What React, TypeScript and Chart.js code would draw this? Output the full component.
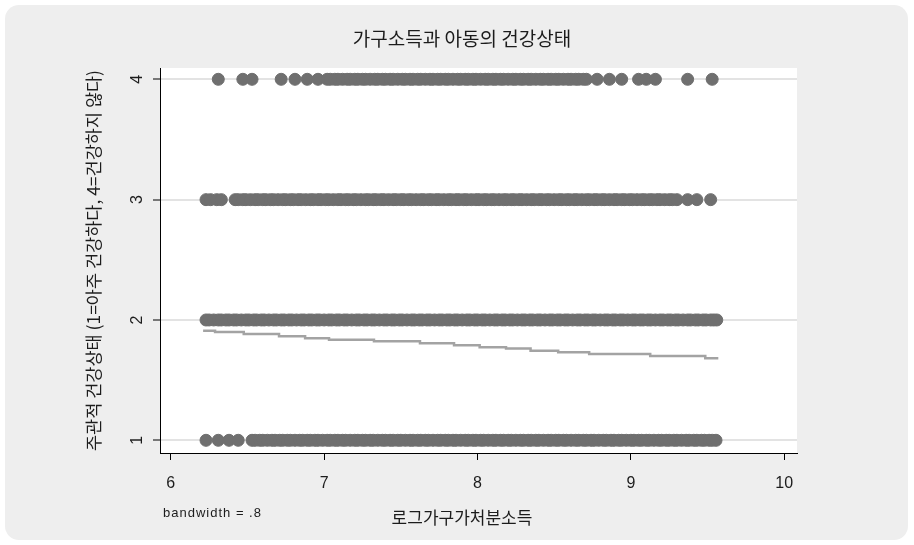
import React, { useEffect, useRef } from "react";
import { Chart, registerables } from "chart.js";

Chart.register(...registerables);

const chartTitle = "가구소득과 아동의 건강상태";
const xAxisTitle = "로그가구가처분소득";
const yAxisTitle = "주관적 건강상태 (1=아주 건강하다, 4=건강하지 않다)";
const noteText = "bandwidth = .8";

const xTicks = [6, 7, 8, 9, 10];
const yTicks = [1, 2, 3, 4];
const healthLevels = [1, 2, 3, 4];

// log household disposable income of observations at each health level
const health1X = [
  6.23, 6.31, 6.38, 6.44, 6.53, 6.55, 6.58, 6.60, 6.63, 6.66, 6.68, 6.71, 6.73, 6.76, 6.78,
  6.81, 6.84, 6.86, 6.89, 6.91, 6.94, 6.96, 6.99, 7.02, 7.04, 7.07, 7.09, 7.12, 7.14, 7.17,
  7.20, 7.22, 7.25, 7.27, 7.30, 7.32, 7.35, 7.38, 7.40, 7.43, 7.45, 7.48, 7.50, 7.53, 7.56,
  7.58, 7.61, 7.63, 7.66, 7.68, 7.71, 7.74, 7.76, 7.79, 7.81, 7.84, 7.86, 7.89, 7.92, 7.94,
  7.97, 7.99, 8.02, 8.04, 8.07, 8.10, 8.12, 8.15, 8.17, 8.20, 8.22, 8.25, 8.28, 8.30, 8.33,
  8.35, 8.38, 8.40, 8.43, 8.46, 8.48, 8.51, 8.53, 8.56, 8.58, 8.61, 8.64, 8.66, 8.69, 8.71,
  8.74, 8.76, 8.79, 8.82, 8.84, 8.87, 8.89, 8.92, 8.94, 8.97, 9.00, 9.02, 9.05, 9.07, 9.10,
  9.12, 9.15, 9.18, 9.20, 9.23, 9.25, 9.28, 9.30, 9.33, 9.36, 9.38, 9.41, 9.43, 9.46, 9.48,
  9.51, 9.53, 9.555,
];
const health2X = [
  6.23, 6.25, 6.28, 6.31, 6.33, 6.36, 6.38, 6.41, 6.43, 6.46, 6.49, 6.51, 6.54, 6.56, 6.59,
  6.61, 6.64, 6.67, 6.69, 6.72, 6.74, 6.77, 6.79, 6.82, 6.85, 6.87, 6.90, 6.92, 6.95, 6.97,
  7.00, 7.03, 7.05, 7.08, 7.10, 7.13, 7.15, 7.18, 7.21, 7.23, 7.26, 7.28, 7.31, 7.33, 7.36,
  7.39, 7.41, 7.44, 7.46, 7.49, 7.51, 7.54, 7.57, 7.59, 7.62, 7.64, 7.67, 7.69, 7.72, 7.75,
  7.77, 7.80, 7.82, 7.85, 7.87, 7.90, 7.93, 7.95, 7.98, 8.00, 8.03, 8.05, 8.08, 8.11, 8.13,
  8.16, 8.18, 8.21, 8.23, 8.26, 8.29, 8.31, 8.34, 8.36, 8.39, 8.41, 8.44, 8.47, 8.49, 8.52,
  8.54, 8.57, 8.59, 8.62, 8.65, 8.67, 8.70, 8.72, 8.75, 8.77, 8.80, 8.83, 8.85, 8.88, 8.90,
  8.93, 8.95, 8.98, 9.01, 9.03, 9.06, 9.08, 9.11, 9.13, 9.16, 9.19, 9.21, 9.24, 9.26, 9.29,
  9.31, 9.34, 9.37, 9.39, 9.42, 9.44, 9.47, 9.49, 9.52, 9.54, 9.56,
];
const health3X = [
  6.23, 6.26, 6.30, 6.33, 6.42, 6.44, 6.47, 6.49, 6.52, 6.55, 6.57, 6.60, 6.62, 6.65, 6.67,
  6.70, 6.73, 6.75, 6.78, 6.80, 6.83, 6.85, 6.88, 6.91, 6.93, 6.96, 6.98, 7.01, 7.03, 7.06,
  7.09, 7.11, 7.14, 7.16, 7.19, 7.21, 7.24, 7.27, 7.29, 7.32, 7.34, 7.37, 7.39, 7.42, 7.45,
  7.47, 7.50, 7.52, 7.55, 7.57, 7.60, 7.63, 7.65, 7.68, 7.70, 7.73, 7.75, 7.78, 7.81, 7.83,
  7.86, 7.88, 7.91, 7.93, 7.96, 7.99, 8.01, 8.04, 8.06, 8.09, 8.11, 8.14, 8.17, 8.19, 8.22,
  8.24, 8.27, 8.29, 8.32, 8.35, 8.37, 8.40, 8.42, 8.45, 8.47, 8.50, 8.53, 8.55, 8.58, 8.60,
  8.63, 8.65, 8.68, 8.71, 8.73, 8.76, 8.78, 8.81, 8.83, 8.86, 8.89, 8.91, 8.94, 8.96, 8.99,
  9.01, 9.04, 9.07, 9.09, 9.12, 9.14, 9.17, 9.19, 9.22, 9.25, 9.27, 9.30, 9.37, 9.43, 9.52,
];
const health4X = [
  6.31, 6.47, 6.53, 6.72, 6.81, 6.89, 6.96, 7.02, 7.04, 7.07, 7.09, 7.12, 7.15, 7.17, 7.20,
  7.22, 7.25, 7.27, 7.30, 7.33, 7.35, 7.38, 7.40, 7.43, 7.45, 7.48, 7.51, 7.53, 7.56, 7.58,
  7.61, 7.63, 7.66, 7.69, 7.71, 7.74, 7.76, 7.79, 7.81, 7.84, 7.87, 7.89, 7.92, 7.94, 7.97,
  7.99, 8.02, 8.05, 8.07, 8.10, 8.12, 8.15, 8.17, 8.20, 8.23, 8.25, 8.28, 8.30, 8.33, 8.35,
  8.38, 8.41, 8.43, 8.46, 8.48, 8.51, 8.53, 8.56, 8.59, 8.61, 8.64, 8.66, 8.69, 8.71, 8.78,
  8.86, 8.94, 9.05, 9.10, 9.16, 9.37, 9.53,
];

// lowess smoother (bandwidth .8)
const lowessX = [
  6.211, 6.289, 6.476, 6.706, 6.876, 7.032, 7.325, 7.625, 7.847, 8.014, 8.186, 8.346, 8.526,
  8.728, 9.126, 9.485, 9.57,
];
const lowessY = [
  1.911, 1.9, 1.884, 1.864, 1.848, 1.836, 1.823, 1.806, 1.79, 1.773, 1.762, 1.745, 1.731,
  1.717, 1.701, 1.682, 1.682,
];

const healthRows = [health1X, health2X, health3X, health4X];

const MARKER = "#6f6f6f";
const LOWESS = "#a3a3a3";
const TEXT = "#1c1c1c";
const KR = '"Noto Sans CJK KR", "Noto Sans", sans-serif';
const LAT = '"Liberation Sans", Arial, sans-serif';

const plotBgPlugin = {
  id: "plotBg",
  beforeDraw(chart: any) {
    const { ctx, chartArea: a } = chart;
    ctx.save();
    ctx.fillStyle = "#ffffff";
    ctx.fillRect(a.left, a.top, a.right - a.left, a.bottom - a.top);
    ctx.restore();
  },
};

const textPlugin = {
  id: "stataText",
  afterDraw(chart: any) {
    const { ctx } = chart;
    ctx.save();
    ctx.fillStyle = TEXT;
    ctx.textAlign = "center";
    ctx.textBaseline = "middle";
    ctx.font = `19px ${KR}`;
    ctx.fillText(chartTitle, 462, 39);
    ctx.font = `17px ${KR}`;
    ctx.fillText(xAxisTitle, 462, 518);
    ctx.textAlign = "left";
    ctx.font = `13px ${LAT}`;
    (ctx as any).letterSpacing = "1px";
    ctx.fillText(noteText, 163, 513);
    ctx.restore();
  },
};

export default function App() {
  const ref = useRef<HTMLCanvasElement>(null);

  useEffect(() => {
    document.body.style.margin = "0";
    const scatterSets = healthRows.map((xs, i) => ({
      label: `health ${healthLevels[i]}`,
      data: xs.map((x) => ({ x, y: healthLevels[i] })),
      backgroundColor: MARKER,
      borderColor: MARKER,
      borderWidth: 1,
      pointRadius: 6,
      pointHoverRadius: 6,
      order: 2,
    }));
    const lowessSet = {
      label: "lowess",
      data: lowessX.map((x, i) => ({ x, y: lowessY[i] })),
      showLine: true,
      stepped: "before" as const,
      borderColor: LOWESS,
      backgroundColor: LOWESS,
      borderWidth: 2.5,
      pointRadius: 0,
      order: 1,
    };

    const chart = new Chart(ref.current as HTMLCanvasElement, {
      type: "scatter",
      data: { datasets: [...scatterSets, lowessSet] as any },
      options: {
        animation: false,
        responsive: false,
        events: [],
        layout: { padding: { top: 68, right: 117, bottom: 0, left: 0 } },
        plugins: {
          legend: { display: false },
          tooltip: { enabled: false },
          title: { display: false },
        },
        scales: {
          x: {
            type: "linear",
            min: 5.93,
            max: 10.083,
            afterFit: (s: any) => {
              s.height = 92;
            },
            afterBuildTicks: (s: any) => {
              s.ticks = xTicks.map((v) => ({ value: v }));
            },
            ticks: {
              font: { family: LAT, size: 16 },
              color: TEXT,
              padding: 14,
              maxRotation: 0,
              autoSkip: false,
            },
            grid: {
              display: true,
              drawOnChartArea: false,
              drawTicks: true,
              tickLength: 7,
              tickColor: "#000",
              tickWidth: 1,
            },
            border: { display: true, color: "#000", width: 1 },
          },
          y: {
            type: "linear",
            min: 0.8945,
            max: 4.094,
            afterFit: (s: any) => {
              s.width = 160;
            },
            afterBuildTicks: (s: any) => {
              s.ticks = yTicks.map((v) => ({ value: v }));
            },
            ticks: {
              font: { family: LAT, size: 16 },
              color: TEXT,
              padding: 11,
              minRotation: 90,
              maxRotation: 90,
              crossAlign: "center",
              autoSkip: false,
            },
            grid: {
              color: "#e3e3e3",
              lineWidth: 2,
              tickColor: "#000",
              tickWidth: 1,
              tickLength: 7,
            },
            border: { display: true, color: "#000", width: 1 },
            title: {
              display: true,
              text: yAxisTitle,
              font: { family: KR, size: 17.5 },
              color: TEXT,
              padding: { top: 83, bottom: 0 },
            },
          },
        },
      },
      plugins: [plotBgPlugin, textPlugin],
    });
    return () => chart.destroy();
  }, []);

  return (
    <div style={{ position: "relative", width: 914, height: 545, background: "#ffffff", overflow: "hidden" }}>
      <div
        style={{
          position: "absolute",
          left: 5,
          top: 5,
          width: 903,
          height: 535,
          background: "#eeeeee",
          borderRadius: 14,
        }}
      />
      <canvas
        ref={ref}
        width={914}
        height={545}
        style={{ position: "absolute", left: 0, top: 0, width: 914, height: 545 }}
      />
    </div>
  );
}
